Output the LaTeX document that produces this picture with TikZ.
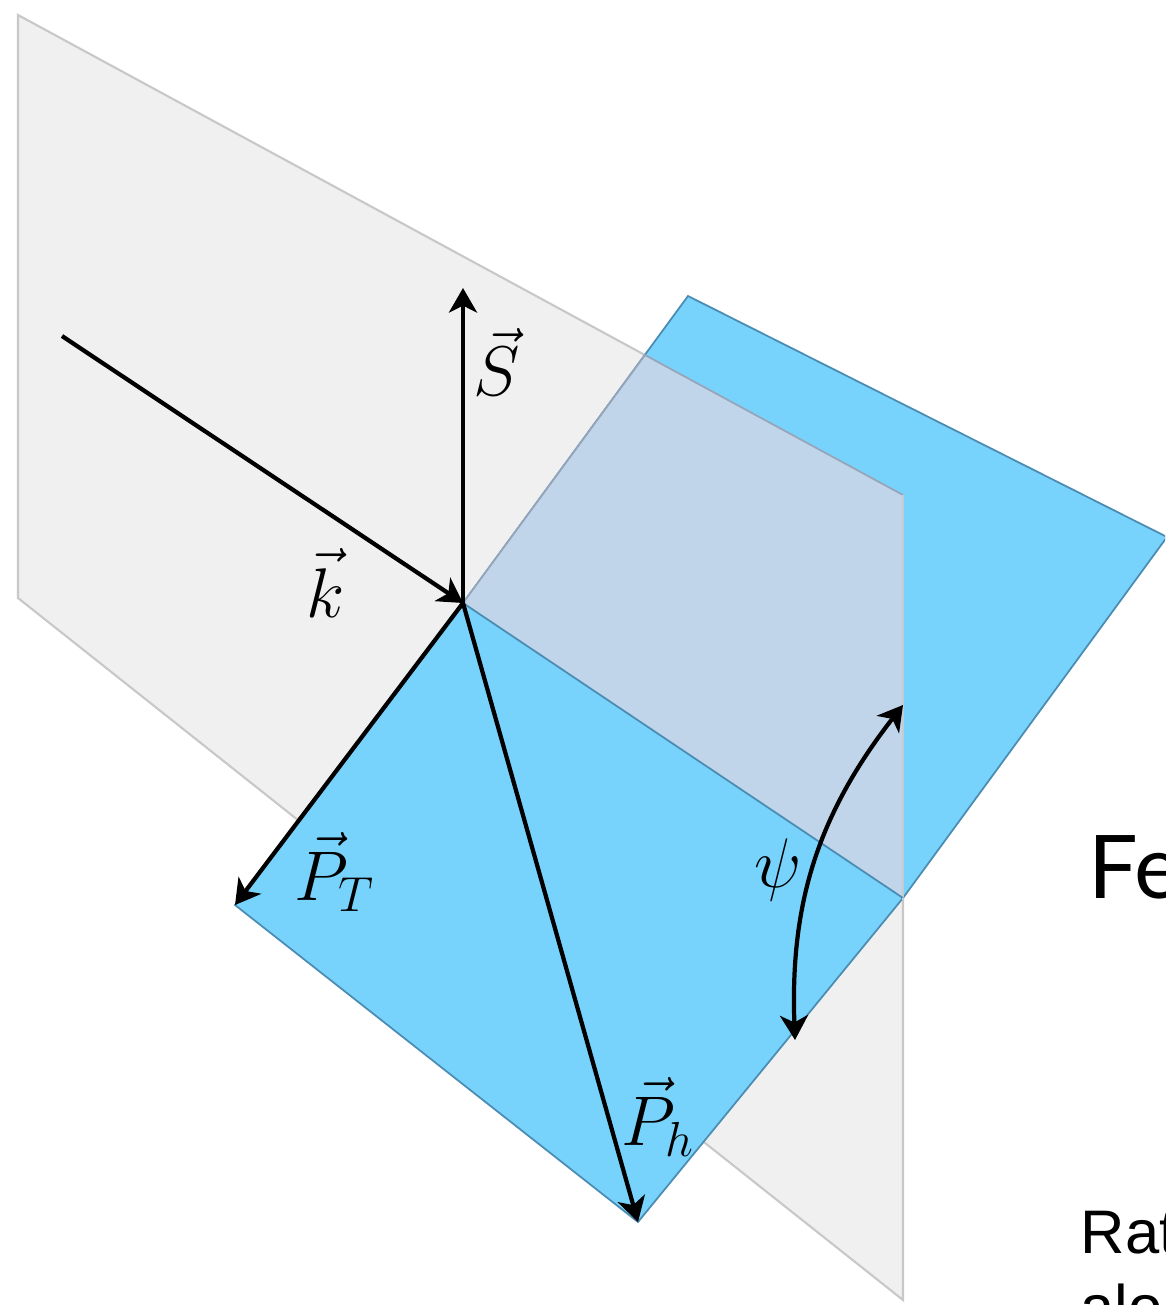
\RequirePackage{fix-cm}
\documentclass[tikz,border=0pt]{standalone}
\usepackage{fontspec}
\newfontfamily\headfont{Lato}
\newfontfamily\bodyfont{Liberation Sans}
\usetikzlibrary{positioning, calc, arrows.meta}
\definecolor{plane}{RGB}{240, 240, 240}
\definecolor{planeedge}{RGB}{200, 200, 200}
\definecolor{sky}{RGB}{120, 211, 252}
\definecolor{skyedge}{RGB}{75, 140, 178}
\definecolor{overlap}{RGB}{192, 212, 234}
\definecolor{overlapedge}{RGB}{150, 165, 185}

\begin{document}
\begin{tikzpicture}[
    vec_style/.style={
        line width=1.2pt,
        -{Stealth[length=7pt, width=8pt, inset=2pt]}
    },
    swing_style/.style={
        line width=1.2pt,
        {Stealth[length=7pt, width=8pt, inset=2pt]}-{Stealth[length=7pt, width=8pt, inset=2pt]}
    },
    lbl/.style={font=\fontsize{20}{24}\selectfont, inner sep=0pt},
    gray_plane/.style={fill=plane, draw=planeedge, line width=0.6pt},
    blue_plane/.style={fill=sky, draw=skyedge, line width=0.5pt},
    caption/.style={anchor=base west, inner sep=0pt, text=black}
]

\useasboundingbox (0,0) rectangle (11.65,-13.05);
\clip (0,0) rectangle (11.65,-13.05);

% corners of the planes
\coordinate (O) at (4.63,-6.03);
\coordinate (g0) at (0.18,-0.15);
\coordinate (g1) at (9.03,-4.95);
\coordinate (g2) at (9.03,-13.00);
\coordinate (g3) at (0.18,-5.98);
\coordinate (b0) at (6.88,-2.96);
\coordinate (b1) at (11.67,-5.37);
\coordinate (b2) at (9.03,-8.98);
\coordinate (b3) at (6.38,-12.22);
\coordinate (b4) at (2.35,-9.05);
\coordinate (x0) at (6.45,-3.55);

\draw[gray_plane] (g0) -- (g1) -- (g2) -- (g3) -- cycle;
\draw[blue_plane] (O) -- (b0) -- (b1) -- (b2) -- (b3) -- (b4) -- cycle;
\fill[overlap] (O) -- (x0) -- (g1) -- (b2) -- cycle;
\draw[overlapedge, line width=0.5pt] (O) -- (x0) -- (g1);
\draw[planeedge!70!overlap, line width=0.6pt] (g1) -- (b2);
\draw[skyedge, line width=0.5pt] (O) -- (b2);
\draw[planeedge, line width=0.6pt] (b2) -- (g2);

% vectors
\coordinate (kstart) at (0.62,-3.36);
\coordinate (Stip) at (4.63,-2.88);
\coordinate (psiA) at (7.95,-10.40);
\coordinate (psiB) at (9.03,-7.05);

\draw[vec_style] (kstart) -- (O);
\draw[vec_style] (O) -- (Stip);
\draw[vec_style] (O) -- (b4);
\draw[vec_style] (O) -- (b3);
\draw[swing_style] (psiA) to[bend left=20] (psiB);

\node[lbl] (klbl) at (3.26,-5.83) {$\vec{k}$};
\node[lbl] (Slbl) at (4.97,-3.62) {$\vec{S}$};
\node[lbl] (PTlbl) at (3.35,-8.72) {$\vec{P}_T$};
\node[lbl] (Phlbl) at (6.58,-11.17) {$\vec{P}_h$};
\node[lbl] (psilbl) at (7.78,-8.70) {$\psi$};

\node[caption, font=\headfont\fontsize{25}{30}\selectfont] (fe) at (10.88,-8.98) {Fe};
\node[caption, font=\bodyfont\fontsize{17.5}{20}\selectfont] (rat) at (10.80,-12.53) {Rat};
\node[caption, font=\bodyfont\fontsize{17.5}{20}\selectfont] (alon) at (10.80,-13.28) {alon};

\end{tikzpicture}
\end{document}
